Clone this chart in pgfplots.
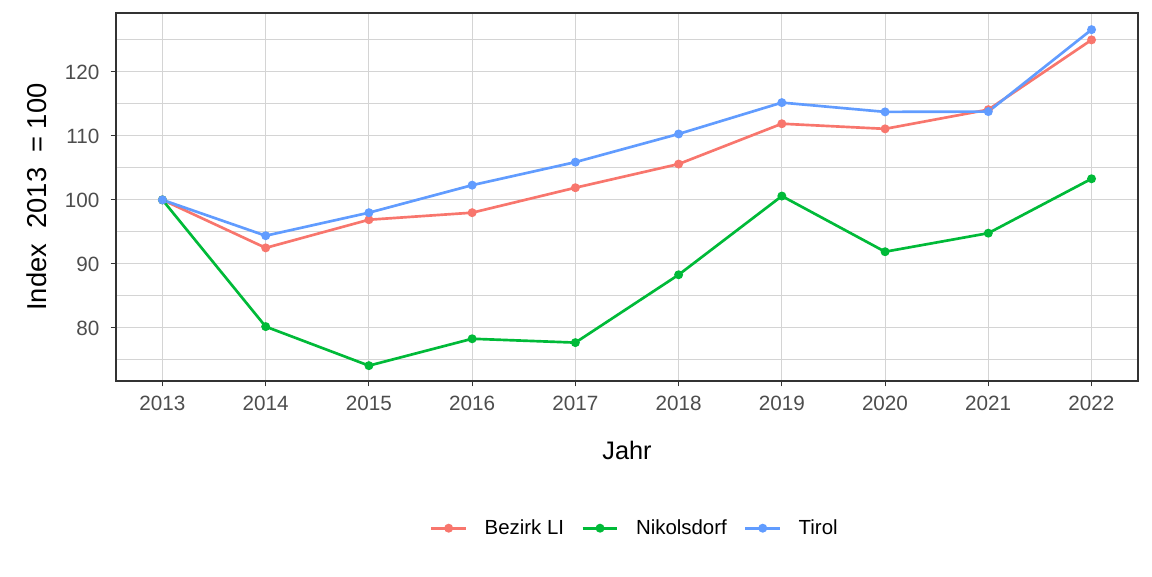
\documentclass[border=0pt]{standalone}
\usepackage{pgfplots}
\pgfplotsset{compat=1.18}
\usepackage{fontspec}
\setmainfont{Liberation Sans}
\definecolor{cA}{HTML}{F8766D}
\definecolor{cB}{HTML}{00BA38}
\definecolor{cC}{HTML}{619CFF}
\definecolor{gridc}{HTML}{D4D4D4}
\definecolor{tickc}{HTML}{4D4D4D}
\definecolor{framec}{HTML}{333333}
\begin{document}
\begin{tikzpicture}
\useasboundingbox (-87pt,-146.25pt) rectangle (777pt,285.75pt);
\begin{axis}[
  at={(0,0)}, anchor=south west,
  scale only axis, width=766.5pt, height=276pt,
  xmin=2012.55, xmax=2022.45, ymin=71.7, ymax=129.2,
  xtick={2013,...,2022}, ytick={80,90,...,120},
  minor ytick={75,85,...,125},
  xticklabel style={/pgf/number format/1000 sep={}, yshift=-4pt},
  yticklabel style={xshift=-5pt},
  /pgf/number format/assume math mode=true,
  ticklabel style={font=\fontsize{15.5}{18}\selectfont, text=tickc},
  grid=both,
  major grid style={gridc, line width=0.6pt},
  minor grid style={gridc, line width=0.6pt},
  axis line style={framec, line width=0.8pt},
  tick align=outside, major tick length=4pt, minor tick length=0pt,
  tick style={framec, line width=0.7pt},
  xtick pos=bottom, ytick pos=left,
  clip=false,
  legend columns=3,
  legend style={draw=none, fill=none, at={(0.508,-0.40)}, anchor=center,
    font=\fontsize{15.3}{18}\selectfont,
    /tikz/every odd column/.append style={column sep=11pt},
    /tikz/every even column/.append style={column sep=11pt}},
  legend image code/.code={\draw[#1, line width=2pt, mark repeat=2, mark phase=2] plot coordinates {(0pt,0pt) (13pt,0pt) (26pt,0pt)};},
  every axis plot/.append style={line width=2pt, mark=*, mark size=2.3pt},
]
\addplot[cA, mark options={fill=cA, draw=cA}] coordinates {
(2013,100) (2014,92.5) (2015,96.9) (2016,98.0) (2017,101.9) (2018,105.6) (2019,111.9) (2020,111.1) (2021,114.1) (2022,125.0)};
\addlegendentry{Bezirk LI}
\addplot[cB, mark options={fill=cB, draw=cB}] coordinates {
(2013,100) (2014,80.2) (2015,74.1) (2016,78.3) (2017,77.7) (2018,88.3) (2019,100.6) (2020,91.9) (2021,94.8) (2022,103.3)};
\addlegendentry{Nikolsdorf}
\addplot[cC, mark options={fill=cC, draw=cC}] coordinates {
(2013,100) (2014,94.4) (2015,98.0) (2016,102.3) (2017,105.9) (2018,110.3) (2019,115.2) (2020,113.75) (2021,113.8) (2022,126.6)};
\addlegendentry{Tirol}
\node[font=\fontsize{19}{22}\selectfont] at (axis description cs:0.5,-0.1875) {Jahr};
\node[font=\fontsize{20.5}{24}\selectfont, rotate=90] at (axis description cs:-0.0773,0.5) {Index\ \ 2013\ \ = 100};
\end{axis}
\end{tikzpicture}
\end{document}
